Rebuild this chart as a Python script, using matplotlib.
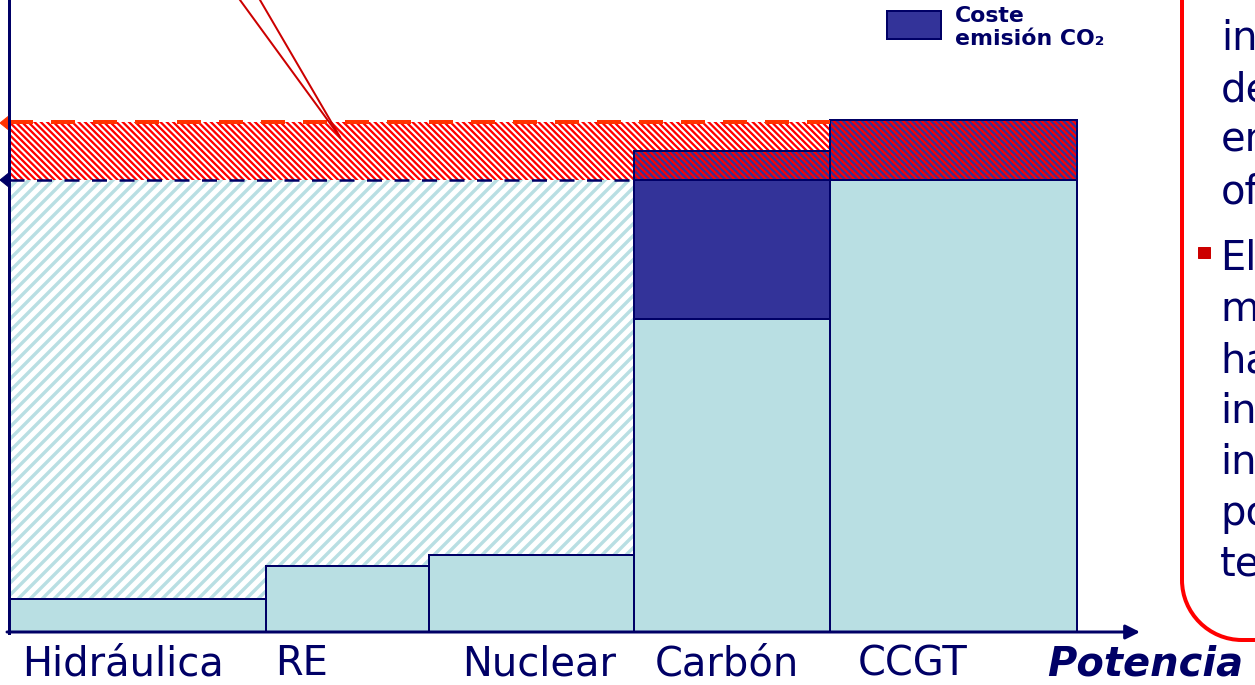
import numpy as np
import matplotlib
matplotlib.use("Agg")
import matplotlib.pyplot as plt
from matplotlib.patches import Polygon, Rectangle, PathPatch
from matplotlib.collections import LineCollection
from matplotlib.path import Path

# ============================================================
# DATA (merit order: capacity width, cost height)
# ============================================================

techs = ['Hidráulica', 'RE', 'Nuclear', 'Carbón', 'CCGT']
capacity = [257, 163, 205, 196, 247]
fuel_cost = [33, 66, 77, 313, 452]
co2_cost = [0, 0, 0, 139, 0]
co2_extra = [0, 0, 0, 29, 60]

price_old = 452
price_new = 510

legend_text = 'Coste\nemisión CO₂'
box_lines_1 = ['in', 'de', 'en', 'of']
box_lines_2 = ['El', 'm', 'ha', 'in', 'in', 'po', 'te']

# ============================================================
# STYLE
# ============================================================

light = '#B9DFE3'
dark = '#333399'
navy = '#000066'
red = '#FF0000'
orange_red = '#FF3300'

DPI = 72
fig = plt.figure(figsize=(1255 / DPI, 685 / DPI), dpi=DPI)
ax = fig.add_axes([0, 0, 1, 1])
ax.set_xlim(-9, 1246)
ax.set_ylim(-53, 632)
ax.axis('off')

lefts = np.concatenate([[0], np.cumsum(capacity)[:-1]])
fuel = np.array(fuel_cost)
co2 = np.array(co2_cost)
extra = np.array(co2_extra)


def stripes(x0, y0, w, h, step, slope, color, lw, z):
    # diagonal stripes clipped to a rectangle (axes units ~ pixels)
    rect = Rectangle((x0, y0), w, h, facecolor='none', edgecolor='none')
    ax.add_patch(rect)
    segs = []
    if slope > 0:
        # lines x - y = c
        c0 = np.floor((x0 - y0 - h) / step) * step
        for c in np.arange(c0, x0 + w - y0 + step, step):
            segs.append([(y0 + c - 5, y0 - 5), (y0 + h + c + 5, y0 + h + 5)])
    else:
        # lines x + y = c
        c0 = np.floor((x0 + y0) / step) * step
        for c in np.arange(c0, x0 + w + y0 + h + step, step):
            segs.append([(c - y0 - h - 5, y0 + h + 5), (c - y0 + 5, y0 - 5)])
    lc = LineCollection(segs, colors=color, linewidths=lw, zorder=z)
    ax.add_collection(lc)
    lc.set_clip_path(rect)


# ------------------------------------------------------------
# hatched area below old price (price-taking plants)
# ------------------------------------------------------------

for i in range(len(techs)):
    if fuel[i] + co2[i] < price_old:
        stripes(lefts[i], fuel[i], capacity[i], price_old - fuel[i],
                12, 1, light, 3.4, 1)

# red hatched band between old and new price
cc_left = lefts[techs.index('CCGT')]
stripes(0, price_old, cc_left, price_new - price_old, 6.3, -1, red, 2.3, 1)

# ------------------------------------------------------------
# cost bars
# ------------------------------------------------------------

ax.bar(lefts, fuel, width=capacity, align='edge', color=light,
       edgecolor=navy, lw=2, zorder=3)

ax.bar(lefts[co2 > 0], co2[co2 > 0], bottom=fuel[co2 > 0],
       width=np.array(capacity)[co2 > 0], align='edge', color=dark,
       edgecolor=navy, lw=2, zorder=3)

m = extra > 0
ax.bar(lefts[m], extra[m], bottom=(fuel + co2)[m],
       width=np.array(capacity)[m], align='edge', color=dark, lw=0, zorder=3)
for i in np.where(m)[0]:
    stripes(lefts[i], fuel[i] + co2[i], capacity[i], extra[i],
            6.3, -1, red, 2.2, 3.5)
ax.bar(lefts[m], extra[m], bottom=(fuel + co2)[m],
       width=np.array(capacity)[m], align='edge', fill=False,
       edgecolor=navy, lw=2, zorder=4)

# ------------------------------------------------------------
# price lines
# ------------------------------------------------------------

ax.plot([0, cc_left], [price_new, price_new], color=orange_red, lw=4,
        dashes=(6, 4.5), zorder=5, solid_capstyle='butt')
carb_left = lefts[techs.index('Carbón')]
ax.plot([0, carb_left], [price_old, price_old], color=navy, lw=2.5,
        dashes=(6, 5), zorder=5)

ax.add_patch(Polygon([(-9, price_new - 1), (1, price_new + 7),
                      (1, price_new - 9)],
                     closed=True, color=orange_red, zorder=6, clip_on=False))
ax.add_patch(Polygon([(-9, price_old), (1, price_old + 8), (1, price_old - 8)],
                     closed=True, color=navy, zorder=6, clip_on=False))

# ------------------------------------------------------------
# axes
# ------------------------------------------------------------

ax.plot([0, 0], [-1, 640], color=navy, lw=3, zorder=6)
ax.annotate('', xy=(1131, 0), xytext=(-2, 0),
            arrowprops=dict(arrowstyle='-|>', color=navy, lw=3,
                            mutation_scale=30, shrinkA=0, shrinkB=0),
            zorder=6)

# callout lines
ax.plot([231, 331], [632, 495], color='#CC0000', lw=2, zorder=7)
ax.plot([251, 331], [632, 495], color='#CC0000', lw=2, zorder=7)

# ------------------------------------------------------------
# labels
# ------------------------------------------------------------

label_x = [13, 266, 453, 646, 849]
for name, lx in zip(techs, label_x):
    ax.text(lx, -43, name, fontsize=40, color=navy, ha='left',
            va='baseline')

ax.text(1038, -43, 'Potencia', fontsize=40, color=navy, ha='left',
        va='baseline', fontweight='bold', fontstyle='italic')

# legend
ax.add_patch(Rectangle((878, 593), 54, 28, facecolor=dark, edgecolor=navy,
                       lw=2, zorder=6))
ax.text(946, 626, legend_text, fontsize=22, color=navy, fontweight='bold',
        ha='left', va='top', linespacing=1.2)

# ------------------------------------------------------------
# red rounded box on the right
# ------------------------------------------------------------

bx, r, bottom_y = 1173, 60, -8
verts = [(bx, 650), (bx, bottom_y + r),
         (bx, bottom_y + r * 0.45), (bx + r * 0.45, bottom_y), (bx + r, bottom_y),
         (1260, bottom_y)]
codes = [Path.MOVETO, Path.LINETO, Path.CURVE4, Path.CURVE4, Path.CURVE4,
         Path.LINETO]
ax.add_patch(PathPatch(Path(verts, codes), facecolor='none', edgecolor=red,
                       lw=4, zorder=6, clip_on=False))

for i, line in enumerate(box_lines_1):
    ax.text(1212, 632 - (50 + 51 * i), line, fontsize=40, color=navy,
            ha='left', va='baseline')
for i, line in enumerate(box_lines_2):
    ax.text(1211, 632 - (270 + 51 * i), line, fontsize=40, color=navy,
            ha='left', va='baseline')
ax.add_patch(Rectangle((1189, 374), 12, 11, color='#CC0000', zorder=6))

fig.savefig('out.png', dpi=DPI)
